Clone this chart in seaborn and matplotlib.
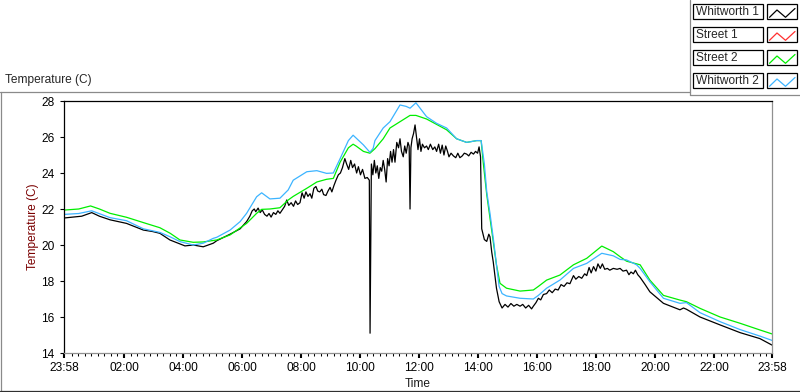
import matplotlib
matplotlib.use("Agg")
import matplotlib.pyplot as plt
import seaborn as sns
import pandas as pd
from matplotlib.lines import Line2D
from matplotlib.patches import Rectangle

# (hours since 23:58, temperature C)
whitworth1_pts = [
    (0, 21.5), (0.3, 21.55), (0.6, 21.6), (0.94, 21.8), (1.2, 21.6), (1.56, 21.4), (2.12, 21.2),
    (2.69, 20.83), (3.0, 20.75), (3.25, 20.65), (3.59, 20.28), (3.93, 20.06), (4.1, 19.95),
    (4.38, 20.0), (4.72, 19.9), (5.06, 20.1), (5.18, 20.24), (5.63, 20.6), (5.97, 20.9),
    (6.19, 21.3), (6.3, 21.6), (6.38, 21.9), (6.45, 22.0), (6.5, 21.85), (6.58, 22.05),
    (6.65, 21.8), (6.72, 21.95), (6.8, 21.7), (6.88, 21.6), (6.95, 21.75), (7.02, 21.55),
    (7.1, 21.8), (7.18, 21.7), (7.25, 21.9), (7.32, 21.76), (7.4, 21.95), (7.48, 22.15),
    (7.55, 22.5), (7.62, 22.2), (7.7, 22.35), (7.78, 22.15), (7.85, 22.45), (7.92, 22.25),
    (8.0, 22.35), (8.07, 22.9), (8.14, 22.6), (8.2, 22.95), (8.27, 22.7), (8.34, 22.85),
    (8.4, 22.6), (8.47, 23.15), (8.54, 23.25), (8.6, 23.0), (8.67, 22.95), (8.74, 23.1),
    (8.8, 22.8), (8.88, 22.75), (8.95, 23.0), (9.02, 23.2), (9.08, 22.95), (9.15, 23.3),
    (9.22, 23.6), (9.3, 23.9), (9.37, 24.0), (9.44, 24.3), (9.52, 24.8), (9.58, 24.5),
    (9.65, 24.2), (9.72, 24.7), (9.78, 24.3), (9.85, 24.5), (9.92, 24.0), (9.98, 24.35),
    (10.05, 23.9), (10.12, 24.2), (10.2, 23.7), (10.28, 23.75), (10.35, 23.6), (10.375, 15.1),
    (10.42, 24.5), (10.47, 23.9), (10.52, 24.7), (10.57, 24.0), (10.62, 24.4), (10.67, 23.7),
    (10.72, 24.3), (10.77, 24.1), (10.82, 24.7), (10.87, 24.2), (10.92, 23.5), (10.97, 24.8),
    (11.02, 24.4), (11.07, 25.2), (11.12, 24.6), (11.17, 25.3), (11.22, 24.6), (11.28, 25.7),
    (11.34, 25.4), (11.39, 25.9), (11.44, 25.2), (11.5, 24.9), (11.55, 25.5), (11.6, 25.1),
    (11.66, 25.7), (11.7, 25.5), (11.73, 22.0), (11.76, 25.4), (11.8, 25.9), (11.85, 26.2),
    (11.9, 26.67), (11.95, 26.0), (12.0, 25.3), (12.05, 25.9), (12.1, 25.2), (12.15, 25.6),
    (12.22, 25.4), (12.29, 25.5), (12.35, 25.3), (12.42, 25.6), (12.5, 25.3), (12.57, 25.45),
    (12.63, 25.2), (12.7, 25.6), (12.76, 25.1), (12.82, 25.55), (12.88, 25.0), (12.94, 25.5),
    (13.0, 25.2), (13.05, 24.9), (13.12, 25.1), (13.2, 24.95), (13.28, 24.85), (13.35, 25.1),
    (13.42, 24.85), (13.5, 24.95), (13.57, 25.1), (13.65, 25.05), (13.72, 24.95), (13.8, 25.15),
    (13.88, 25.05), (13.95, 25.2), (14.02, 25.1), (14.07, 25.45), (14.12, 24.9), (14.16, 20.9),
    (14.25, 20.3), (14.33, 20.2), (14.4, 20.6), (14.44, 20.46), (14.5, 19.6), (14.55, 19.07),
    (14.66, 17.6), (14.75, 16.85), (14.85, 16.5), (14.95, 16.7), (15.05, 16.55), (15.15, 16.75),
    (15.25, 16.6), (15.35, 16.7), (15.46, 16.6), (15.55, 16.7), (15.65, 16.5), (15.75, 16.65),
    (15.85, 16.45), (15.91, 16.6), (16.0, 16.8), (16.08, 17.04), (16.16, 16.95), (16.25, 17.25),
    (16.36, 17.3), (16.45, 17.5), (16.55, 17.35), (16.65, 17.55), (16.75, 17.5), (16.85, 17.8),
    (16.95, 17.7), (17.05, 17.9), (17.15, 17.85), (17.27, 18.3), (17.35, 18.1), (17.45, 18.25),
    (17.55, 18.15), (17.65, 18.4), (17.72, 18.3), (17.8, 18.75), (17.87, 18.45), (17.95, 18.8),
    (18.03, 18.55), (18.1, 18.95), (18.18, 18.7), (18.25, 18.95), (18.33, 18.65), (18.42, 18.7),
    (18.5, 18.6), (18.62, 18.7), (18.75, 18.65), (18.85, 18.7), (18.95, 18.55), (19.07, 18.6),
    (19.15, 18.35), (19.22, 18.5), (19.3, 18.4), (19.37, 18.6), (19.45, 18.35), (19.53, 18.2),
    (19.7, 17.8), (19.86, 17.4), (20.32, 16.76), (20.88, 16.4), (21.0, 16.5), (21.1, 16.43),
    (21.56, 16.0), (22.24, 15.56), (22.92, 15.13), (23.59, 14.8), (24.0, 14.44),
]

street1_pts = []

street2_pts = [
    (0, 21.94), (0.5, 22.0), (0.9, 22.17), (1.2, 22.0), (1.56, 21.76), (2.12, 21.54), (2.7, 21.24),
    (3.25, 20.96), (3.6, 20.65), (3.93, 20.28), (4.38, 20.15), (4.72, 20.17), (5.18, 20.28),
    (5.63, 20.56), (5.97, 20.95), (6.19, 21.2), (6.53, 21.76), (6.7, 21.98), (6.98, 22.0),
    (7.32, 22.07), (7.6, 22.5), (7.77, 22.7), (8.23, 23.15), (8.57, 23.5), (8.9, 23.65),
    (9.13, 23.7), (9.36, 24.6), (9.64, 25.4), (9.8, 25.6), (9.9, 25.5), (10.15, 25.2),
    (10.37, 25.1), (10.54, 25.35), (10.82, 25.9), (11.05, 26.5), (11.39, 26.85), (11.73, 27.2),
    (11.93, 27.2), (12.29, 27.0), (12.63, 26.7), (12.97, 26.4), (13.31, 25.9), (13.65, 25.7),
    (13.99, 25.8), (14.14, 25.8), (14.21, 24.6), (14.33, 22.8), (14.44, 21.5), (14.55, 20.2),
    (14.66, 18.9), (14.78, 17.87), (15.0, 17.6), (15.46, 17.44), (15.91, 17.5), (16.08, 17.7),
    (16.36, 18.05), (16.81, 18.33), (17.27, 18.9), (17.72, 19.26), (18.23, 19.94), (18.62, 19.63),
    (18.85, 19.35), (19.07, 19.1), (19.53, 18.9), (19.86, 18.05), (20.32, 17.2), (20.88, 16.94),
    (21.1, 16.85), (21.56, 16.48), (22.24, 16.0), (22.92, 15.65), (23.59, 15.28), (24.0, 15.06),
]

whitworth2_pts = [
    (0, 21.7), (0.5, 21.75), (0.94, 21.9), (1.56, 21.52), (2.12, 21.35), (2.69, 20.9), (3.25, 20.7),
    (3.59, 20.46), (3.93, 20.19), (4.38, 20.0), (4.72, 20.1), (5.06, 20.37), (5.18, 20.43),
    (5.63, 20.83), (5.97, 21.3), (6.19, 21.76), (6.53, 22.68), (6.7, 22.9), (6.98, 22.56),
    (7.32, 22.6), (7.6, 23.06), (7.77, 23.6), (8.23, 24.07), (8.57, 24.13), (8.9, 23.98),
    (9.13, 24.0), (9.36, 24.8), (9.64, 25.8), (9.8, 26.1), (10.15, 25.56), (10.37, 25.15),
    (10.48, 25.37), (10.54, 25.8), (10.82, 26.5), (11.05, 26.85), (11.39, 27.78), (11.6, 27.7),
    (11.73, 27.6), (11.93, 27.9), (12.29, 27.13), (12.63, 26.76), (12.97, 26.5), (13.31, 25.9),
    (13.65, 25.7), (13.99, 25.8), (14.14, 25.8), (14.25, 24.5), (14.33, 22.96), (14.44, 21.76),
    (14.55, 20.4), (14.66, 18.9), (14.75, 17.7), (14.85, 17.3), (15.0, 17.17), (15.46, 17.04),
    (15.91, 17.0), (16.08, 17.2), (16.36, 17.6), (16.81, 18.05), (17.27, 18.7), (17.72, 18.98),
    (18.23, 19.54), (18.62, 19.4), (18.85, 19.2), (19.07, 19.17), (19.41, 18.9), (19.53, 18.7),
    (19.86, 17.96), (20.32, 17.04), (20.88, 16.76), (21.1, 16.8), (21.56, 16.24), (22.24, 15.74),
    (22.92, 15.3), (23.59, 14.94), (24.0, 14.7),
]

names = ["Whitworth 1", "Street 1", "Street 2", "Whitworth 2"]
colors = {"Whitworth 1": "#000000", "Street 1": "#ff3030",
          "Street 2": "#00ee00", "Whitworth 2": "#3cb4ff"}

x_labels = ["23:58", "02:00", "04:00", "06:00", "08:00", "10:00", "12:00",
            "14:00", "16:00", "18:00", "20:00", "22:00", "23:58"]
y_ticks = [14, 16, 18, 20, 22, 24, 26, 28]

series = {"Whitworth 1": whitworth1_pts, "Street 1": street1_pts,
          "Street 2": street2_pts, "Whitworth 2": whitworth2_pts}
df = pd.concat([pd.DataFrame(pts, columns=["hours", "temp"]).assign(sensor=n)
                for n, pts in series.items() if pts], ignore_index=True)

sns.set_style("white")
plt.rcParams["font.family"] = ["Liberation Sans", "DejaVu Sans"]
plt.rcParams["font.size"] = 8.5

W, H = 800, 392
fig = plt.figure(figsize=(W / 100, H / 100), dpi=100)

def fx(x):
    return x / W

def fy(y):
    return 1 - y / H

ax = fig.add_axes([fx(64), fy(353), fx(772) - fx(64), fy(101) - fy(353)])
present = [n for n in names if series[n]]
sns.lineplot(data=df, x="hours", y="temp", hue="sensor", hue_order=present,
             palette=colors, estimator=None, sort=False, legend=False,
             linewidth=0.9, ax=ax)

ax.set_xlim(0, 24)
ax.set_ylim(14, 28)
ax.set_yticks(y_ticks)
major_x = [0] + [2 * k + 1 / 30 for k in range(1, 12)] + [24]
ax.set_xticks(major_x)
ax.set_xticklabels(x_labels)
minor_x = [2 + 1 / 30 + m * 2 / 9 for m in range(-8, 99)]
minor_x = [m for m in minor_x if 0.05 < m < 23.95 and all(abs(m - j) > 0.05 for j in major_x)]
ax.set_xticks(minor_x, minor=True)

ax.tick_params(axis="both", which="major", direction="out", colors="black", labelsize=8.6)
ax.tick_params(axis="y", left=True, length=3.2, width=0.8, pad=3.5)
ax.tick_params(axis="x", which="major", bottom=True, length=3.6, width=1.5, pad=3)
ax.tick_params(axis="x", which="minor", bottom=True, length=2.2, width=0.75, color="black")

for side in ["left", "top"]:
    ax.spines[side].set_color("black")
    ax.spines[side].set_linewidth(0.9)
for side in ["right", "bottom"]:
    ax.spines[side].set_color("#909090")
    ax.spines[side].set_linewidth(0.9)

ax.set_xlabel("Time", fontsize=8.6, color="#1a1a1a")
ax.xaxis.set_label_coords((418 - 64) / 708, -(384 - 353) / 252)
ax.xaxis.label.set_va("center")
ax.set_ylabel("Temperature (C)", fontsize=8.6, color="#7a0000")
ax.yaxis.set_label_coords(-(64 - 33) / 708, 0.5)
ax.yaxis.label.set_va("center")

# graph label and frame
fig.text(fx(5), fy(80), "Temperature (C)", fontsize=8.6, va="center", ha="left")
fig.add_artist(Line2D([fx(0), fx(690)], [fy(91.5), fy(91.5)], color="#8a8a8a", lw=0.9))
fig.add_artist(Line2D([fx(0.5), fx(0.5)], [fy(91.5), fy(392)], color="#8a8a8a", lw=0.9))
fig.add_artist(Line2D([fx(0), fx(800)], [fy(391), fy(391)], color="#303030", lw=0.9))
fig.add_artist(Line2D([fx(689.5), fx(689.5)], [fy(0), fy(95)], color="#8a8a8a", lw=0.9))
fig.add_artist(Line2D([fx(689.5), fx(800)], [fy(95), fy(95)], color="#8a8a8a", lw=0.9))

# plot legend, LabVIEW style
for i, name in enumerate(names):
    top = 4 + 23 * i
    fig.add_artist(Rectangle((fx(693), fy(top + 15)), fx(70), fy(0) - fy(15),
                             transform=fig.transFigure, fill=False, ec="black", lw=0.9))
    fig.add_artist(Rectangle((fx(767), fy(top + 15)), fx(30), fy(0) - fy(15),
                             transform=fig.transFigure, fill=False, ec="black", lw=0.9))
    fig.text(fx(695.5), fy(top + 8), name, fontsize=8.6, va="center", ha="left")
    zx = [769.5, 777, 785.5, 795]
    zy = [top + 13.3, top + 6, top + 13.3, top + 4.5]
    fig.add_artist(Line2D([fx(v) for v in zx], [fy(v) for v in zy],
                          color=colors[name], lw=0.9))

fig.savefig("out.png", dpi=100)
